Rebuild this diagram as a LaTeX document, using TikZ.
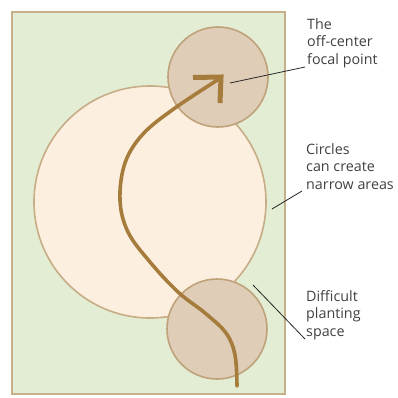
\documentclass[tikz,border=0pt]{standalone}
\usepackage{fontspec}
\setmainfont{Open Sans}
\definecolor{bggreen}{RGB}{226,237,211}
\definecolor{rectline}{RGB}{198,176,138}
\definecolor{bigfill}{RGB}{253,239,224}
\definecolor{bigline}{RGB}{200,172,134}
\definecolor{smallfill}{RGB}{223,205,184}
\definecolor{smallline}{RGB}{192,162,122}
\definecolor{pathcol}{RGB}{166,124,60}
\definecolor{txtcol}{RGB}{64,64,64}
\begin{document}
\begin{tikzpicture}[x=1pt,y=-1pt,
  lbl/.style={anchor=north west,inner sep=0pt,align=left,text=txtcol,
    font=\fontsize{14.3}{17.5}\selectfont},
  leader/.style={draw=black!85,line width=0.8pt},
  smallc/.style={fill=smallfill,draw=smallline,line width=1.6pt}]
\useasboundingbox (0,0) rectangle (398,397);
% bed
\draw[fill=bggreen,draw=rectline,line width=2pt] (12,12) rectangle (285,394);
% big circle
\draw[fill=bigfill,draw=bigline,line width=1.6pt] (150,202) circle[radius=116];
% small circles
\draw[smallc] (218,77) circle[radius=50];
\draw[smallc] (217,329) circle[radius=50];
% path
\draw[pathcol,line width=3.6pt,line cap=round] plot[smooth,tension=0.6] coordinates
  {(237,386) (235,355) (226,333) (205,313) (178,292) (150,262) (128,232) (120,200) (125,163) (143,134) (175,108) (219,79)};
\draw[pathcol,line width=5pt,line join=miter,line cap=butt] (193,77.5) -- (221,77) -- (220,103);
% labels
\node[lbl] (t1) at (307,18) {The\\off-center\\focal point};
\node[lbl] (t2) at (306,143) {Circles\\can create\\narrow areas};
\node[lbl] (t3) at (306,290) {Difficult\\planting\\space};
\coordinate (p1) at (230,83);
\coordinate (q1) at (305,67);
\coordinate (p2) at (272,209);
\coordinate (q2) at (302,191);
\coordinate (p3) at (253,285);
\coordinate (q3) at (305,339);
\draw[leader] (p1) -- (q1);
\draw[leader] (p2) -- (q2);
\draw[leader] (p3) -- (q3);
\end{tikzpicture}
\end{document}
